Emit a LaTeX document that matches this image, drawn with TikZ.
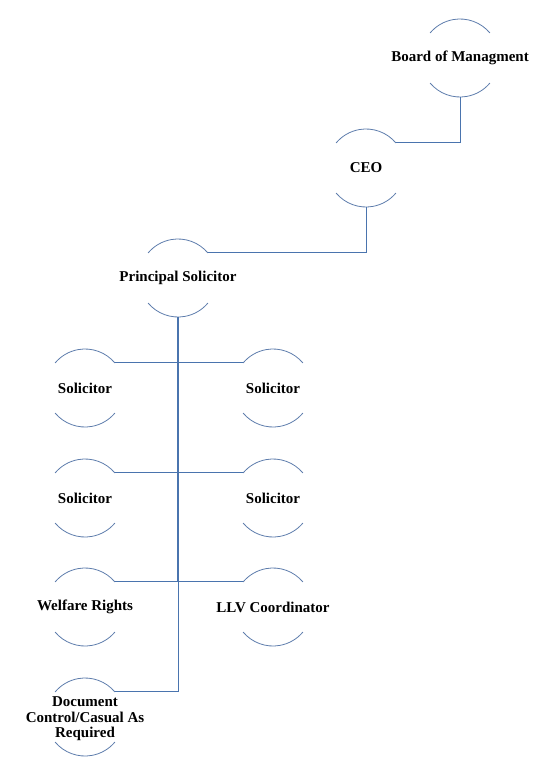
\documentclass[tikz,border=0pt]{standalone}
\usepackage{fontspec}
\setmainfont{Liberation Serif}
\definecolor{linkblue}{HTML}{4A74AE}
\definecolor{rimblue}{HTML}{5E7DAC}
\tikzset{
  post/.style={circle, minimum size=78bp, inner sep=0pt, outer sep=0pt},
  tag/.style={font=\bfseries\fontsize{15bp}{15.5bp}\selectfont, align=center, inner sep=0pt},
  rim/.style={rimblue, line width=0.8bp},
  link/.style={linkblue, line width=0.9bp},
  spine/.style={linkblue, line width=1.8bp}
}
\begin{document}
\begin{tikzpicture}[x=1bp, y=-1bp]
  \useasboundingbox (0,0) rectangle (550,779);
  % posts, text set in the middle of each
  \node[post, label={[tag]center:Board of Managment}] (board) at (460,58) {};
  \node[post, label={[tag]center:CEO}] (ceo) at (366,168) {};
  \node[post, label={[tag]center:Principal Solicitor}] (principal) at (178,278) {};
  \node[post, label={[tag]center:Solicitor}] (solA) at (85,388) {};
  \node[post, label={[tag]center:Solicitor}] (solB) at (273,388) {};
  \node[post, label={[tag]center:Solicitor}] (solC) at (85,498) {};
  \node[post, label={[tag]center:Solicitor}] (solD) at (273,498) {};
  \node[post, label={[tag]center:Welfare Rights}] (welfare) at (85,607) {};
  \node[post, label={[tag]center:LLV Coordinator}] (llv) at (273,607) {};
  \node[post, label={[tag, yshift=-2bp]center:Document\\Control/Casual As\\Required}] (doc) at (85,717) {};

  % top and bottom arcs of every post
  \foreach \n in {board,ceo,principal,solA,solB,solC,solD,welfare,llv,doc} {
    \draw[rim] (\n.40) arc[start angle=40, end angle=140, radius=39bp];
    \draw[rim] (\n.220) arc[start angle=220, end angle=320, radius=39bp];
  }

  % connectors
  \draw[link] (board.south) |- (ceo.40);
  \draw[link] (ceo.south) |- (principal.40);
  \coordinate (fork) at (principal.south |- welfare.40);
  \draw[spine] (principal.south) -- (fork);
  \draw[link] (solA.40) -- (solB.140);
  \draw[link] (solC.40) -- (solD.140);
  \draw[link] (welfare.40) -- (llv.140);
  \draw[link] (fork) |- (doc.40);
\end{tikzpicture}
\end{document}
